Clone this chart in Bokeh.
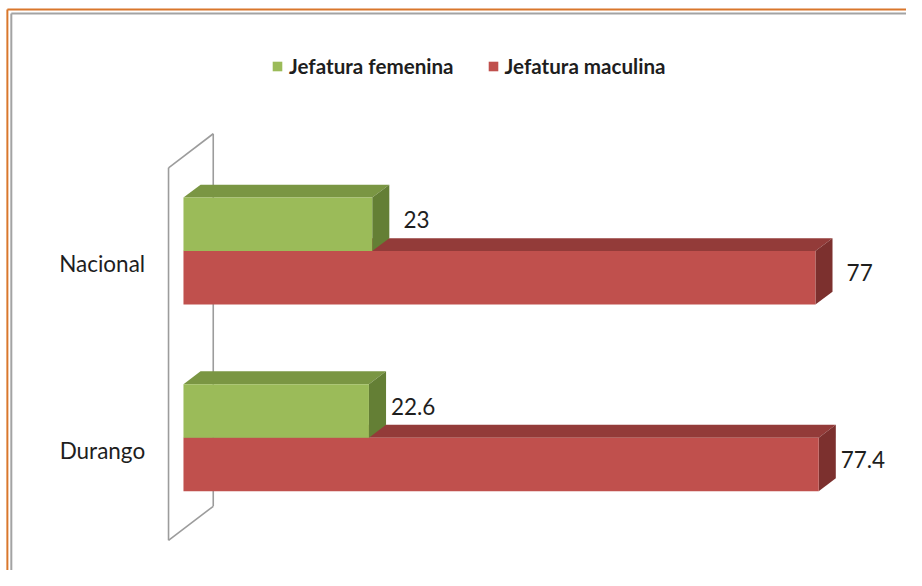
from bokeh.plotting import figure
from bokeh.models import Range1d, Legend, LegendItem, ColumnDataSource
from bokeh.core.properties import value
from bokeh.embed import file_html
from bokeh.resources import INLINE

# ---------------- data ----------------
categories = ["Nacional", "Durango"]
series_names = ["Jefatura femenina", "Jefatura maculina"]
femenina = [23, 22.6]
masculina = [77, 77.4]

# ---------------- layout ----------------
W, H = 906, 570
SX, SY = W / 922.0, H / 586.0   # design was measured on a 922x586 canvas

XS = 8.352 * SX        # px per percentage point
YS = 191.8 * SY        # px per category step
ZERO_X = 186.2 * SX    # frame px of value 0
CAT0_Y = 257.6 * SY    # frame px (from top) of first category split line
BAR_H = 55.0 * SY      # px height of each bar
DX, DY = 17.4 * SX, 13.3 * SY  # 3-D depth offset of bars

FONT = "Lato"
TXT = "#1e1e1e"
GREEN = ("#9BBB59", "#7A9643", "#647F35")   # front, top, side
RED = ("#C0504D", "#933B39", "#7C302E")


def px_x(v):
    return v * SX / XS


def px_y(v):
    return v * SY / YS


n = len(categories)
cat_y = [n - 1 - i for i in range(n)]
x_start = -ZERO_X / XS
x_end = x_start + W / XS
y_end = (n - 1) + CAT0_Y / YS
y_start = y_end - H / YS

p = figure(width=W, height=H, x_range=Range1d(x_start, x_end),
           y_range=Range1d(y_start, y_end), output_backend="svg",
           toolbar_location=None, x_axis_type=None, y_axis_type=None,
           min_border=0, outline_line_color=None,
           background_fill_color="white", border_fill_color="white")
p.grid.visible = False

# ---------------- frame borders (left / top only) ----------------
for off, col in ((7.0, "#D9772C"), (11.0, "#A3A3A3")):
    bx0 = x_start + px_x(off)
    by0 = y_end - px_y(off + 2.3)
    p.segment(x0=[bx0, bx0], y0=[by0, by0], x1=[bx0, x_end], y1=[y_start, by0],
              line_color=col, line_width=2)

# ---------------- 3-D side wall ----------------
fx, bx = px_x(-15.2), px_x(30.3)
tf = cat_y[0] + px_y(85.6)
bf = cat_y[-1] - px_y(105.6)
wd = px_y(35.0)
p.multi_line(xs=[[fx, fx], [bx, bx], [fx, bx], [fx, bx]],
             ys=[[tf, bf], [tf + wd, bf + wd], [tf, tf + wd], [bf, bf + wd]],
             line_color="#9C9C9C", line_width=1.6)

# ---------------- bars ----------------
dx, dy, bh = DX / XS, DY / YS, BAR_H / YS


def draw_series(vals, y_lo_list, colors):
    tops_x, tops_y, sides_x, sides_y = [], [], [], []
    for v, y0 in zip(vals, y_lo_list):
        y1 = y0 + bh
        tops_x.append([0, v, v + dx, dx])
        tops_y.append([y1, y1, y1 + dy, y1 + dy])
        sides_x.append([v, v, v + dx, v + dx])
        sides_y.append([y0, y1, y1 + dy, y0 + dy])
    p.patches(xs=tops_x, ys=tops_y, fill_color=colors[1], line_color=None)
    p.patches(xs=sides_x, ys=sides_y, fill_color=colors[2], line_color=None)
    src = ColumnDataSource(dict(y=[y0 + bh / 2 for y0 in y_lo_list], right=vals))
    return p.hbar(y="y", left=0, right="right", height=bh, source=src,
                  fill_color=colors[0], line_color=None)


r_front = draw_series(masculina, [c - bh for c in cat_y], RED)
g_front = draw_series(femenina, [c for c in cat_y], GREEN)

# ---------------- value labels ----------------
lab_x, lab_y, lab_t = [], [], []
for vals, off in ((femenina, bh / 2), (masculina, -bh / 2)):
    for v, c in zip(vals, cat_y):
        lab_x.append(v + px_x(45))
        lab_y.append(c + off + px_y(5))
        lab_t.append(f"{v:g}")
p.text(x=lab_x, y=lab_y, text=lab_t, text_font=value(FONT),
       text_font_size="22.5px", text_color=TXT, text_align="center",
       text_baseline="middle")

# ---------------- category labels ----------------
p.text(x=[px_x(-39)] * n, y=[c - px_y(13) for c in cat_y], text=categories,
       text_font=value(FONT), text_font_size="22.5px", text_color=TXT,
       text_align="right", text_baseline="middle")

# ---------------- legend ----------------
legend = Legend(items=[LegendItem(label=series_names[0], renderers=[g_front]),
                       LegendItem(label=series_names[1], renderers=[r_front])],
                orientation="horizontal", location=(271, 492),
                glyph_width=12, glyph_height=12, label_standoff=6, spacing=33,
                padding=0, margin=0, border_line_color=None,
                background_fill_alpha=0, label_text_font=FONT,
                label_text_font_style="bold", label_text_font_size="20.6px",
                label_text_color=TXT, label_height=20)
p.add_layout(legend, "center")

open("out.html", "w").write(file_html(p, INLINE))
